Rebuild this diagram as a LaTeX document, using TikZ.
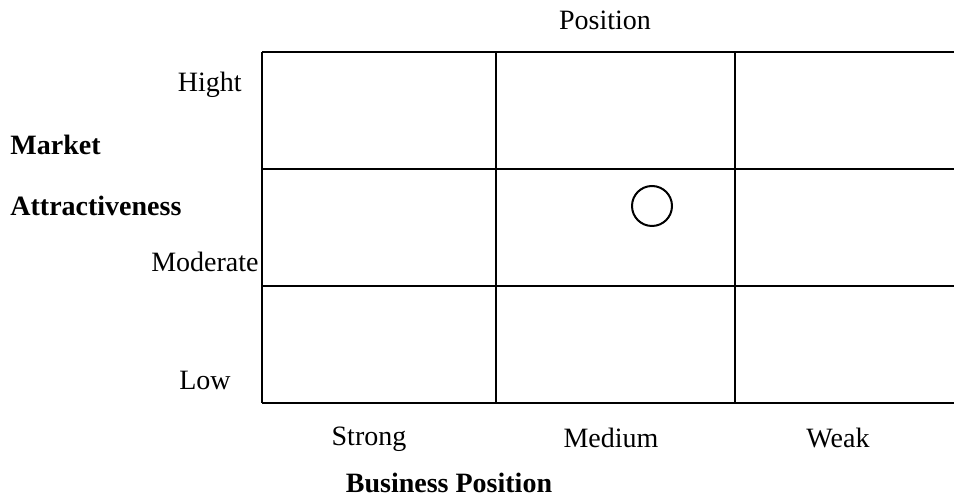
\documentclass[tikz,border=0pt]{standalone}
\usepackage{fontspec}
\setmainfont{Liberation Serif}
\usepackage{tikz}
\usetikzlibrary{positioning}

\begin{document}
\begin{tikzpicture}[
  x=0.5pt, y=-0.5pt,
  font=\fontsize{14}{17}\selectfont,
  gridline/.style={line width=1.1pt, black},
  lvl/.style={inner sep=0pt},
  axislbl/.style={inner sep=0pt, font=\fontsize{14}{17}\selectfont\bfseries},
  marker/.style={circle, draw, line width=1pt, minimum size=20pt, inner sep=0pt}
]
\useasboundingbox (0,0) rectangle (954,501);

% grid
\draw[gridline] (262,52) -- (954,52);
\draw[gridline] (262,169) -- (954,169);
\draw[gridline] (262,286) -- (954,286);
\draw[gridline] (262,403) -- (954,403);
\foreach \gx in {262,496,735}
  \draw[gridline] (\gx,52) -- (\gx,403);

% axis titles
\node[lvl] (top) at (605,20) {Position};
\node[axislbl, anchor=west] (mkt) at (10,145) {Market};
\node[axislbl, anchor=west] (attr) at (10,206) {Attractiveness};
\node[axislbl] (bus) at (449,483) {Business Position};

% row labels
\node[lvl, anchor=east] (high) at (242,85) {Hight};
\node[lvl, anchor=east] (mod) at (259,262) {Moderate};
\node[lvl] (low) at (205,380) {Low};

% column labels
\node[lvl] (strong) at (369,439) {Strong};
\node[lvl] (medium) at (611,438) {Medium};
\node[lvl] (weak) at (838,438) {Weak};

% position of the business
\node[marker] (pos) at (652,206) {};
\end{tikzpicture}
\end{document}
